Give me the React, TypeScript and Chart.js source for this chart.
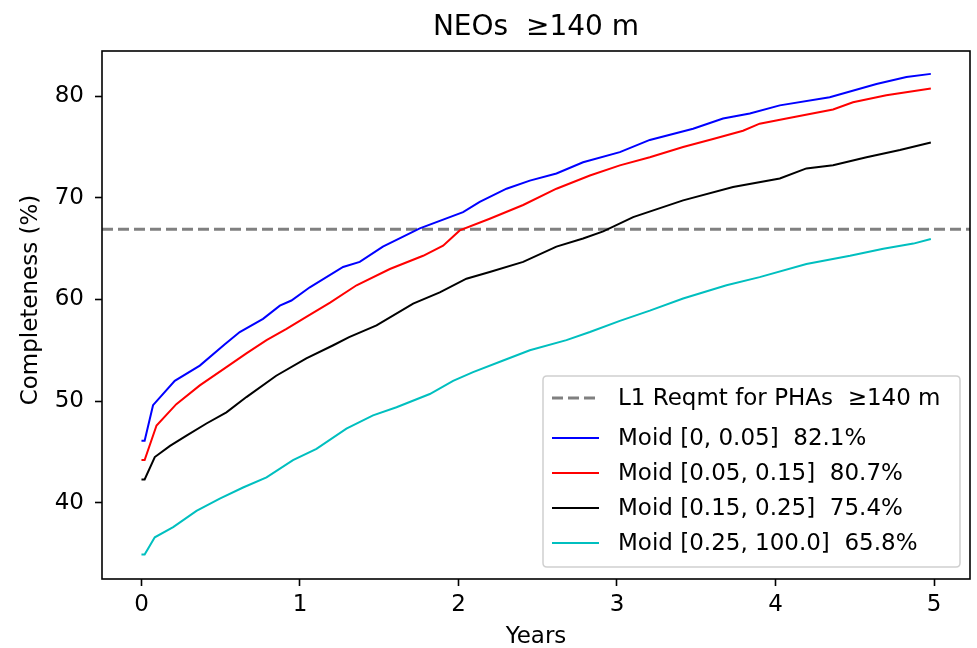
import React, { useEffect, useRef } from "react";
import { Chart, registerables } from "chart.js";

Chart.register(...registerables);

// ---------- text ----------
const titleText = "NEOs  \u2265140 m";
const xAxisLabel = "Years";
const yAxisLabel = "Completeness (%)";

// ---------- axes ----------
const xTicks = [0, 1, 2, 3, 4, 5];
const yTicks = [40, 50, 60, 70, 80];
const xMin = -0.249;
const xMax = 5.227;
const yMin = 32.5;
const yMax = 84.45;

// ---------- requirement line ----------
const reqLabel = "L1 Reqmt for PHAs  \u2265140 m";
const reqValue = 66.9;

// ---------- series ----------
const seriesLabels = [
  "Moid [0, 0.05]  82.1%",
  "Moid [0.05, 0.15]  80.7%",
  "Moid [0.15, 0.25]  75.4%",
  "Moid [0.25, 100.0]  65.8%",
];
const seriesColors = ["#0000ff", "#ff0000", "#000000", "#00bfbf"];

const blueYears = [0, 0.02, 0.073, 0.21, 0.368, 0.526, 0.62, 0.767, 0.873, 0.946, 1.062, 1.272, 1.377, 1.523, 1.756, 2.029, 2.134, 2.303, 2.45, 2.618, 2.786, 3.018, 3.207, 3.48, 3.669, 3.838, 4.027, 4.342, 4.637, 4.826, 4.98];
const blueValues = [46.1, 46.1, 49.6, 52.0, 53.5, 55.6, 56.8, 58.1, 59.4, 59.9, 61.2, 63.2, 63.7, 65.2, 67.0, 68.6, 69.6, 70.9, 71.7, 72.4, 73.5, 74.5, 75.7, 76.8, 77.8, 78.3, 79.1, 79.9, 81.2, 81.9, 82.2];

const redYears = [0, 0.02, 0.095, 0.22, 0.368, 0.536, 0.662, 0.789, 0.915, 1.04, 1.19, 1.357, 1.567, 1.777, 1.903, 2.008, 2.197, 2.408, 2.618, 2.829, 3.018, 3.207, 3.417, 3.606, 3.795, 3.9, 4.069, 4.363, 4.489, 4.699, 4.98];
const redValues = [44.2, 44.2, 47.6, 49.7, 51.55, 53.35, 54.7, 56.0, 57.1, 58.3, 59.7, 61.4, 63.0, 64.3, 65.3, 66.8, 67.95, 69.3, 70.9, 72.2, 73.2, 74.0, 75.0, 75.8, 76.6, 77.3, 77.8, 78.7, 79.4, 80.1, 80.75];

const blackYears = [0, 0.02, 0.084, 0.18, 0.284, 0.41, 0.536, 0.662, 0.85, 1.04, 1.21, 1.31, 1.483, 1.714, 1.882, 2.05, 2.197, 2.408, 2.618, 2.786, 2.913, 3.102, 3.417, 3.732, 4.027, 4.195, 4.363, 4.574, 4.785, 4.98];
const blackValues = [42.3, 42.3, 44.5, 45.6, 46.6, 47.8, 48.9, 50.4, 52.5, 54.2, 55.5, 56.3, 57.45, 59.6, 60.7, 62.05, 62.7, 63.7, 65.2, 66.0, 66.7, 68.1, 69.75, 71.06, 71.9, 72.9, 73.2, 74.0, 74.7, 75.45];

const cyanYears = [0, 0.02, 0.084, 0.2, 0.347, 0.494, 0.641, 0.789, 0.956, 1.104, 1.293, 1.461, 1.609, 1.819, 1.966, 2.092, 2.282, 2.45, 2.681, 2.829, 3.018, 3.207, 3.417, 3.691, 3.9, 4.195, 4.47, 4.68, 4.87, 4.98];
const cyanValues = [34.9, 34.9, 36.6, 37.6, 39.2, 40.4, 41.5, 42.5, 44.2, 45.3, 47.3, 48.6, 49.4, 50.7, 52.0, 52.85, 54.0, 55.0, 56.0, 56.8, 57.9, 58.9, 60.1, 61.4, 62.2, 63.5, 64.3, 65.0, 65.5, 65.95];

const seriesYears = [blueYears, redYears, blackYears, cyanYears];
const seriesValues = [blueValues, redValues, blackValues, cyanValues];

const FONT = "'DejaVu Sans', 'Noto Sans', sans-serif";

const decorPlugin = {
  id: "mplDecor",
  afterDatasetsDraw(chart: any) {
    const { ctx, chartArea: a } = chart;
    ctx.save();
    // axes frame
    ctx.setLineDash([]);
    ctx.strokeStyle = "#000";
    ctx.lineWidth = 1.6;
    ctx.strokeRect(a.left, a.top, a.right - a.left, a.bottom - a.top);

    // legend
    const boxW = 417;
    const boxH = 191;
    const bx = a.right - 10 - boxW;
    const by = a.bottom - 12 - boxH;
    const r = 4;
    ctx.beginPath();
    ctx.moveTo(bx + r, by);
    ctx.lineTo(bx + boxW - r, by);
    ctx.quadraticCurveTo(bx + boxW, by, bx + boxW, by + r);
    ctx.lineTo(bx + boxW, by + boxH - r);
    ctx.quadraticCurveTo(bx + boxW, by + boxH, bx + boxW - r, by + boxH);
    ctx.lineTo(bx + r, by + boxH);
    ctx.quadraticCurveTo(bx, by + boxH, bx, by + boxH - r);
    ctx.lineTo(bx, by + r);
    ctx.quadraticCurveTo(bx, by, bx + r, by);
    ctx.closePath();
    ctx.fillStyle = "rgba(255,255,255,0.8)";
    ctx.fill();
    ctx.strokeStyle = "#d0d0d0";
    ctx.lineWidth = 1.5;
    ctx.stroke();

    const rowOffsets = [22, 62, 97, 132, 167];
    const order = [4, 0, 1, 2, 3];
    ctx.font = `23px ${FONT}`;
    ctx.textAlign = "left";
    ctx.textBaseline = "middle";
    order.forEach((di, i) => {
      const ds = chart.data.datasets[di];
      const y = by + rowOffsets[i];
      ctx.beginPath();
      ctx.setLineDash(ds.borderDash || []);
      ctx.strokeStyle = ds.borderColor;
      ctx.lineWidth = ds.borderWidth;
      ctx.moveTo(bx + 9, y);
      ctx.lineTo(bx + 56, y);
      ctx.stroke();
      ctx.setLineDash([]);
      ctx.fillStyle = "#000";
      ctx.fillText(ds.label, bx + 75, y + 1);
    });

    // title
    ctx.fillStyle = "#000";
    ctx.font = `28px ${FONT}`;
    ctx.textAlign = "center";
    ctx.textBaseline = "alphabetic";
    ctx.fillText(titleText, (a.left + a.right) / 2, a.top - 16.5);

    // y axis label
    ctx.font = `23px ${FONT}`;
    ctx.translate(31, (a.top + a.bottom) / 2 - 15);
    ctx.rotate(-Math.PI / 2);
    ctx.textAlign = "center";
    ctx.textBaseline = "middle";
    ctx.fillText(yAxisLabel, 0, 0);
    ctx.restore();
  },
};

export default function App() {
  const canvasRef = useRef<HTMLCanvasElement | null>(null);

  useEffect(() => {
    document.body.style.margin = "0";
    const canvas = canvasRef.current;
    if (!canvas) return;

    const datasets: any[] = seriesLabels.map((label, i) => ({
      label,
      data: seriesYears[i].map((x, j) => ({ x, y: seriesValues[i][j] })),
      borderColor: seriesColors[i],
      backgroundColor: seriesColors[i],
      borderWidth: 2,
      pointRadius: 0,
      tension: 0,
      fill: false,
      order: 1,
    }));
    datasets.push({
      label: reqLabel,
      data: [
        { x: xMin, y: reqValue },
        { x: xMax, y: reqValue },
      ],
      borderColor: "#808080",
      backgroundColor: "#808080",
      borderWidth: 3,
      borderDash: [11, 5],
      pointRadius: 0,
      fill: false,
      order: 5,
    });

    const tickGrid = {
      display: true,
      drawOnChartArea: false,
      drawTicks: true,
      tickLength: 7,
      tickWidth: 1.6,
      tickColor: "#000",
    };

    const chart = new Chart(canvas, {
      type: "line",
      data: { datasets },
      options: {
        animation: false,
        responsive: false,
        maintainAspectRatio: false,
        devicePixelRatio: 1,
        layout: { padding: { top: 51, right: 7, left: 0, bottom: 0 } },
        plugins: {
          legend: { display: false },
          title: { display: false },
          tooltip: { enabled: false },
        },
        scales: {
          x: {
            type: "linear",
            min: xMin,
            max: xMax,
            grid: tickGrid,
            border: { display: false },
            afterBuildTicks: (s: any) => {
              s.ticks = xTicks.map((v) => ({ value: v }));
            },
            afterFit: (s: any) => {
              s.height = 69;
            },
            ticks: {
              color: "#000",
              font: { family: FONT, size: 23 },
              padding: 5,
              maxRotation: 0,
              autoSkip: false,
            },
            title: {
              display: true,
              text: xAxisLabel,
              color: "#000",
              font: { family: FONT, size: 23, lineHeight: 1 },
              padding: { top: 0, bottom: -0.5 },
            },
          },
          y: {
            type: "linear",
            min: yMin,
            max: yMax,
            grid: tickGrid,
            border: { display: false },
            afterBuildTicks: (s: any) => {
              s.ticks = yTicks.map((v) => ({ value: v }));
            },
            afterFit: (s: any) => {
              s.width = 102;
            },
            ticks: {
              color: "#000",
              font: { family: FONT, size: 23 },
              padding: 11,
              autoSkip: false,
            },
          },
        },
      },
      plugins: [decorPlugin],
    });

    return () => {
      chart.destroy();
    };
  }, []);

  return (
    <div style={{ width: 977, height: 648, background: "#fff" }}>
      <canvas ref={canvasRef} width={977} height={648} style={{ display: "block" }} />
    </div>
  );
}
